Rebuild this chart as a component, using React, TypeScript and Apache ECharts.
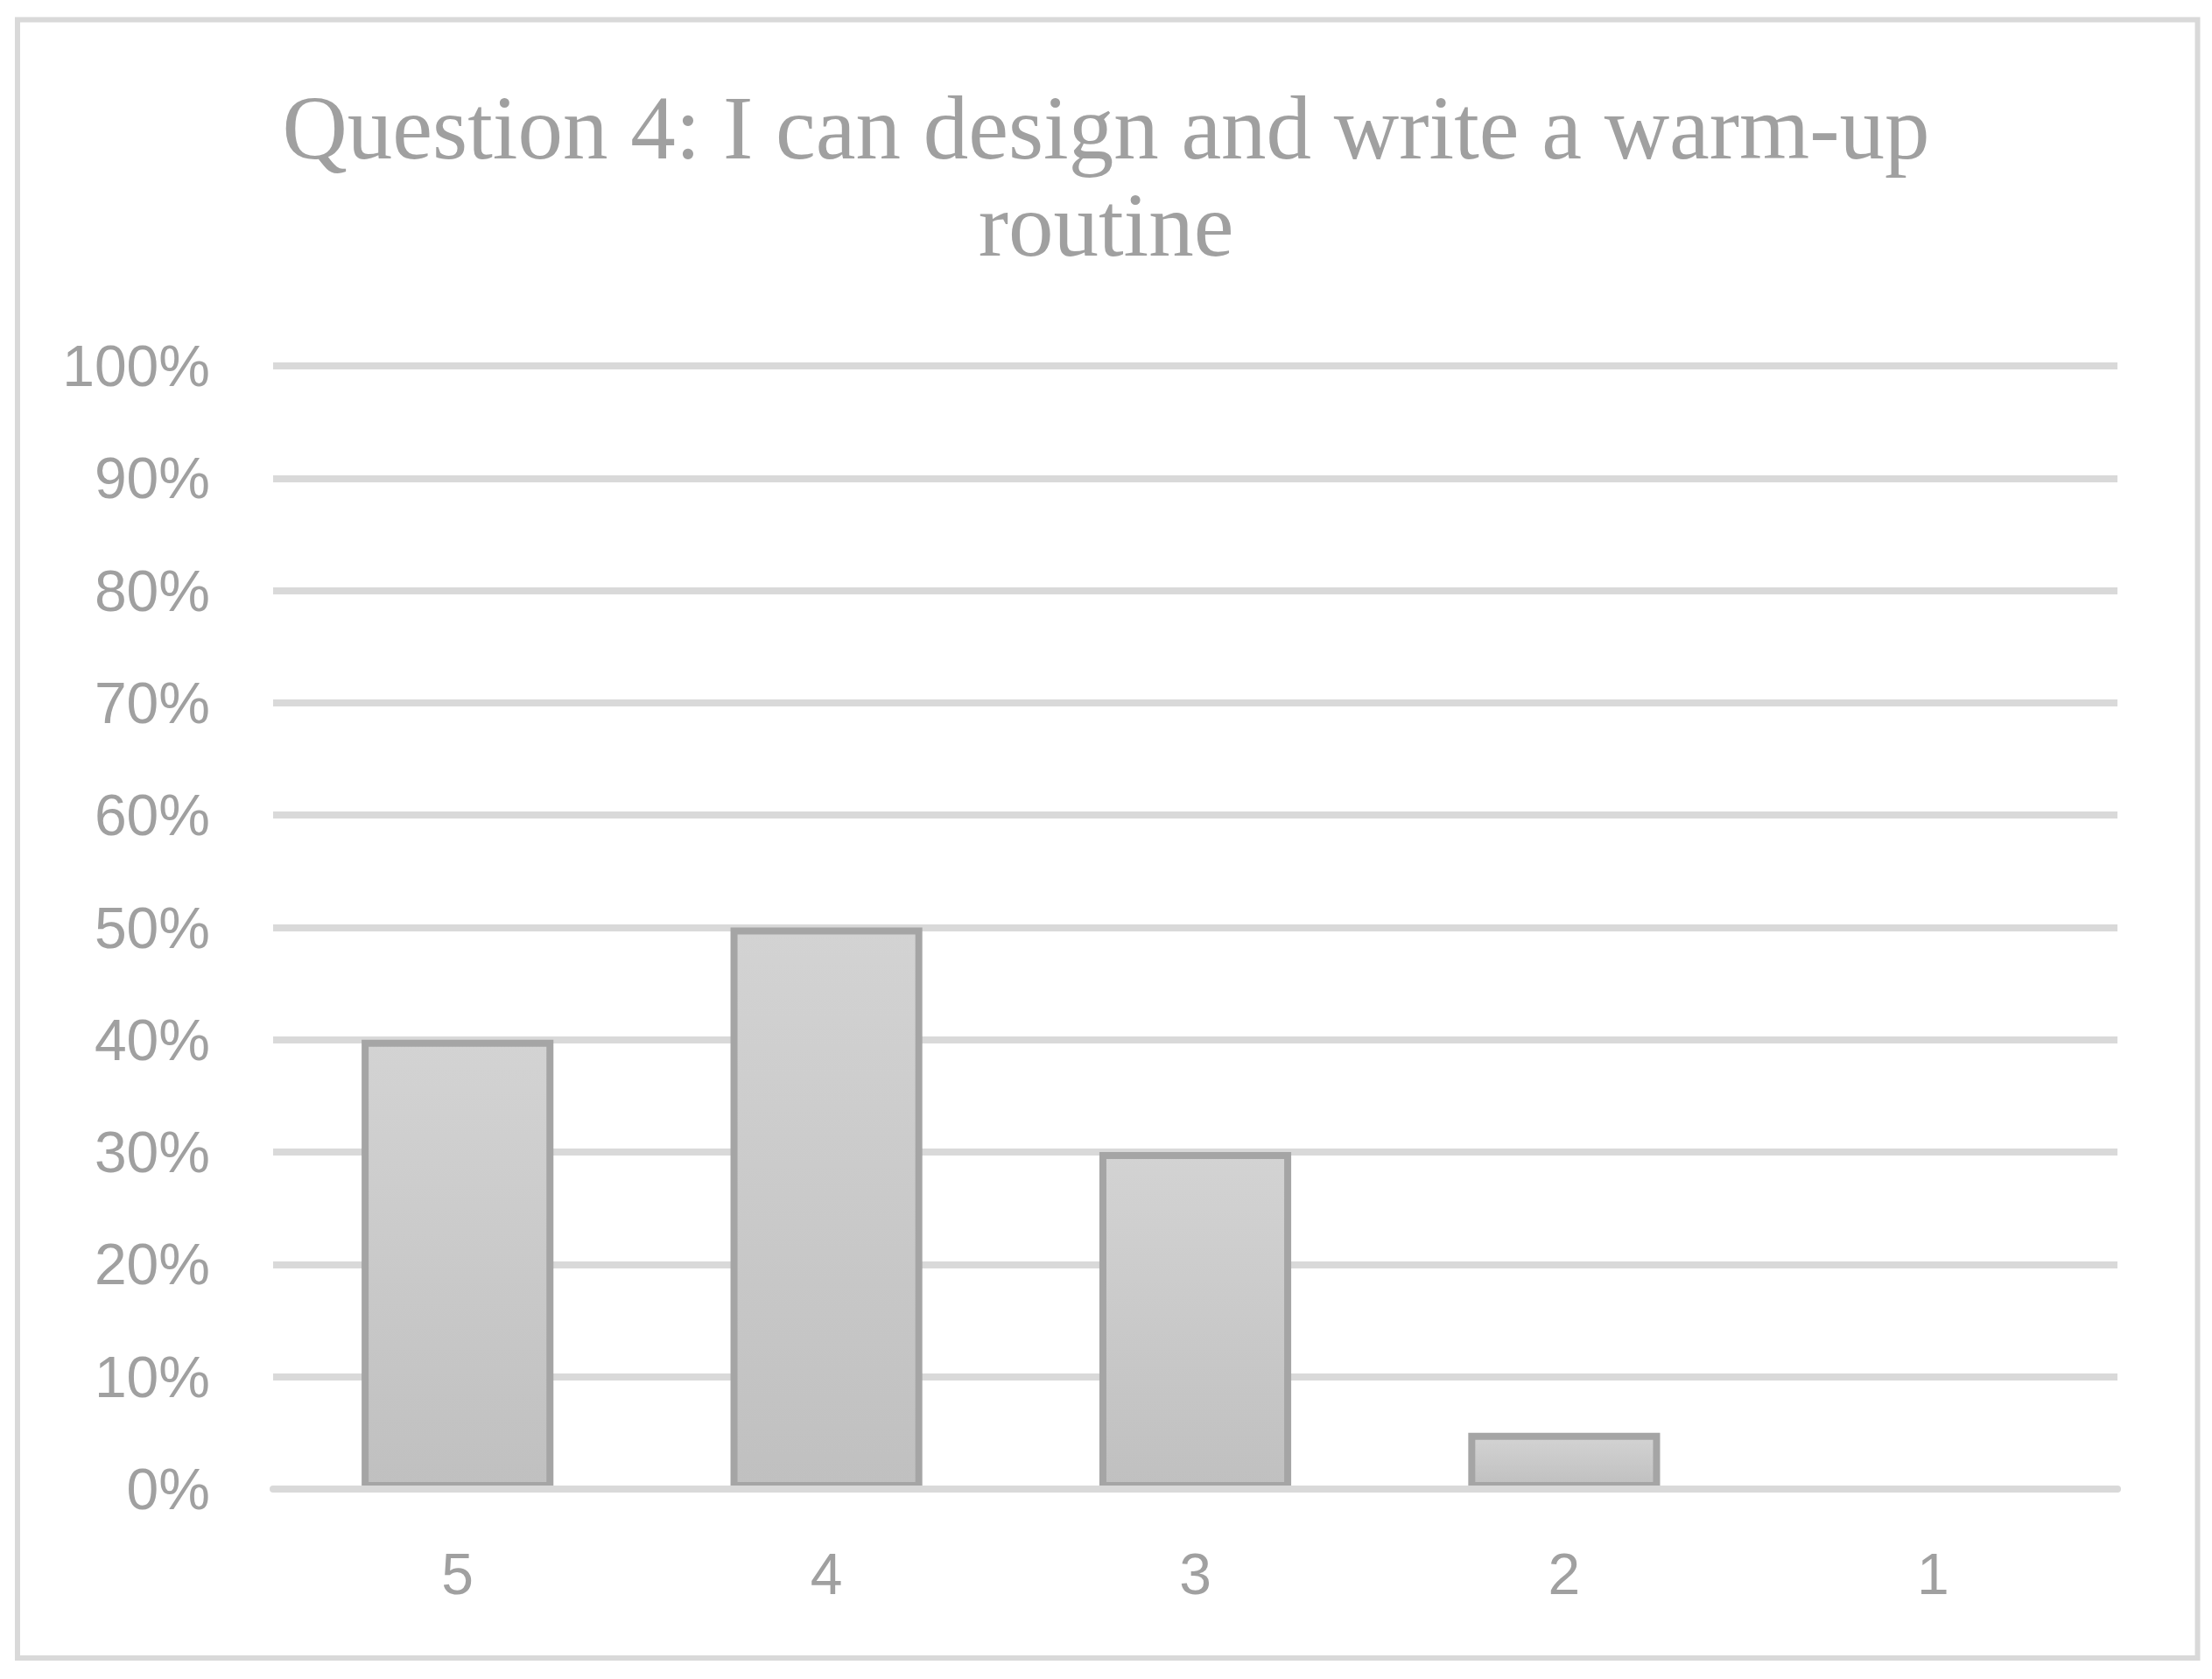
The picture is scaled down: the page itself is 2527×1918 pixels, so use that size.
import React, { useEffect, useRef } from "react";
import * as echarts from "echarts";

const titleText = "Question 4: I can design and write a warm-up\nroutine";
const categories = ["5", "4", "3", "2", "1"];
const values = [0.4, 0.5, 0.3, 0.05, 0];
const yMin = 0;
const yMax = 1;
const yInterval = 0.1;

const TEXT = "#a0a0a0";
const GRID = "#d9d9d9";

export default function App() {
  const ref = useRef<HTMLDivElement>(null);
  useEffect(() => {
    document.body.style.margin = "0";
    document.body.style.overflow = "hidden";
    const chart = echarts.init(ref.current!, undefined, { renderer: "svg" });
    chart.setOption({
      animation: false,
      backgroundColor: "#ffffff",
      title: {
        text: titleText,
        left: "center",
        top: 85,
        textStyle: {
          fontFamily: "Liberation Serif",
          fontSize: 103,
          fontWeight: "normal",
          lineHeight: 111,
          color: TEXT,
        },
      },
      graphic: [
        {
          type: "rect",
          shape: { x: 20, y: 22.5, width: 2490.5, height: 1871.5 },
          style: { fill: "none", stroke: GRID, lineWidth: 6 },
          silent: true,
        },
      ],
      grid: { left: 312, right: 108, top: 418, bottom: 217 },
      xAxis: {
        type: "category",
        data: categories,
        z: 10,
        axisLine: { show: true, lineStyle: { color: GRID, width: 8 } },
        axisTick: { show: false },
        axisLabel: {
          fontFamily: "Liberation Sans",
          fontSize: 66,
          color: TEXT,
          margin: 64,
        },
      },
      yAxis: {
        type: "value",
        min: yMin,
        max: yMax,
        interval: yInterval,
        axisLine: { show: false },
        axisTick: { show: false },
        splitLine: { lineStyle: { color: GRID, width: 8 } },
        axisLabel: {
          fontFamily: "Liberation Sans",
          fontSize: 66,
          color: TEXT,
          margin: 72,
          formatter: (v: number) => Math.round(v * 100) + "%",
        },
      },
      series: [
        {
          type: "bar",
          data: values,
          barWidth: "52%",
          itemStyle: {
            color: new echarts.graphic.LinearGradient(0, 0, 0, 1, [
              { offset: 0, color: "#d3d3d3" },
              { offset: 1, color: "#c0c0c0" },
            ]),
            borderColor: "#a5a5a5",
            borderWidth: 8,
          },
        },
      ],
    });
    return () => chart.dispose();
  }, []);
  return <div ref={ref} style={{ width: 2527, height: 1918 }} />;
}
